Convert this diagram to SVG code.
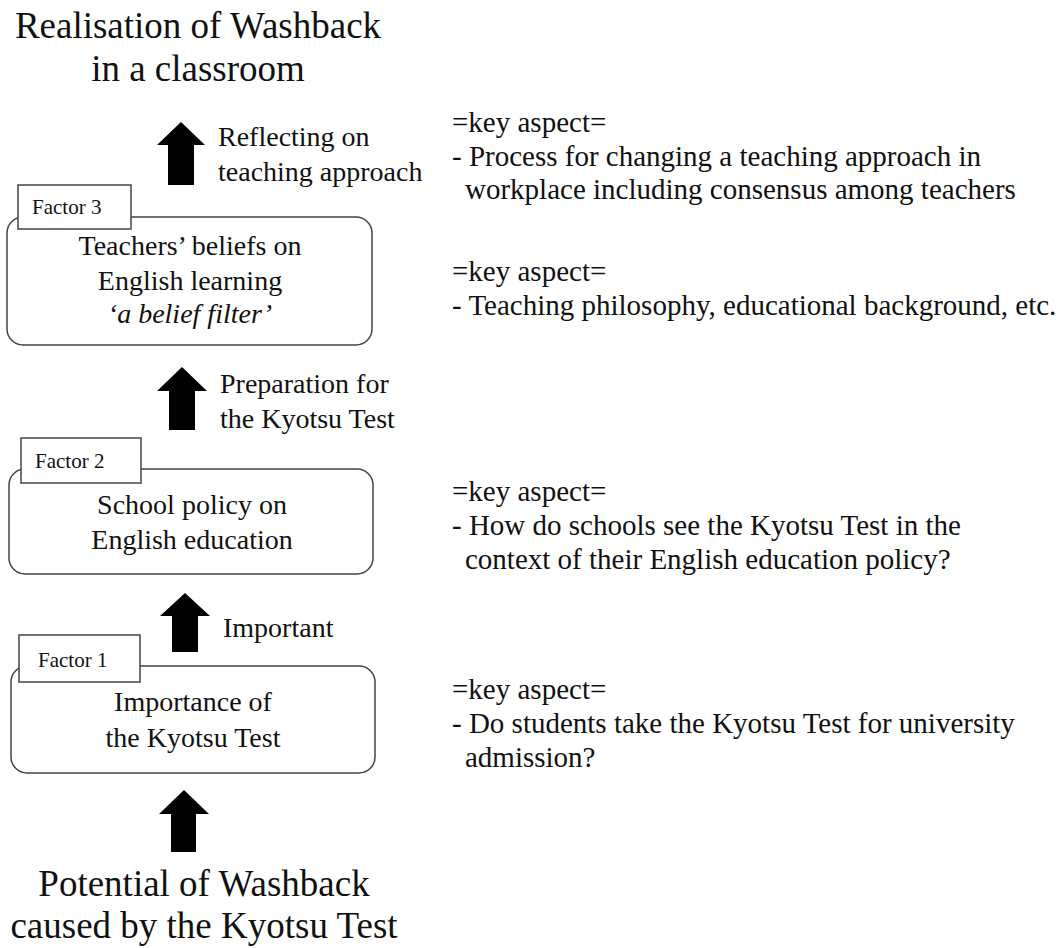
<svg xmlns="http://www.w3.org/2000/svg" width="1062" height="948" viewBox="0 0 1062 948">
<style>
text{font-family:"Liberation Serif","Times New Roman",serif;fill:#111;}
.title{font-size:37px;text-anchor:middle;}
.lbl{font-size:28px;}
.box{fill:#fff;stroke:#444;stroke-width:1.5;}
.btxt{font-size:28px;text-anchor:middle;}
.ftag{fill:#fff;stroke:#444;stroke-width:1.5;}
.ftxt{font-size:21px;}
.key{font-size:29px;}
.arrow{fill:#000;}
</style>
<rect width="1062" height="948" fill="#fff"/>
<g id="title-top">
<text class="title" x="198" y="38">Realisation of Washback</text>
<text class="title" x="198" y="81">in a classroom</text>
</g>
<g id="title-bottom">
<text class="title" x="204" y="896">Potential of Washback</text>
<text class="title" x="204" y="938">caused by the Kyotsu Test</text>
</g>
<g id="connectors">
<path class="arrow" d="M181,122 L205,145 L194,145 L194,185 L168,185 L168,145 L157,145 Z"/>
<path class="arrow" d="M182,367 L207,391 L195,391 L195,430 L169,430 L169,391 L157,391 Z"/>
<path class="arrow" d="M185,593 L210,616 L198,616 L198,652 L172,652 L172,616 L160,616 Z"/>
<path class="arrow" d="M184,790 L209,814 L196,814 L196,852 L171,852 L171,814 L159,814 Z"/>
<text class="lbl" x="218" y="146">Reflecting on</text>
<text class="lbl" x="218" y="181">teaching approach</text>
<text class="lbl" x="220" y="393">Preparation for</text>
<text class="lbl" x="220" y="428">the Kyotsu Test</text>
<text class="lbl" x="223" y="637">Important</text>
</g>
<g id="factor3">
<rect class="box" x="7" y="217" width="365" height="128" rx="16"/>
<rect class="ftag" x="18" y="185" width="113" height="44"/>
<text class="ftxt" x="32" y="214">Factor 3</text>
<text class="btxt" x="190" y="255">Teachers’ beliefs on</text>
<text class="btxt" x="190" y="290">English learning</text>
<text class="btxt" x="190" y="323" font-style="italic">‘a belief filter’</text>
</g>
<g id="factor2">
<rect class="box" x="9" y="469" width="364" height="105" rx="16"/>
<rect class="ftag" x="21" y="438" width="120" height="45"/>
<text class="ftxt" x="35" y="468">Factor 2</text>
<text class="btxt" x="192" y="514">School policy on</text>
<text class="btxt" x="192" y="549">English education</text>
</g>
<g id="factor1">
<rect class="box" x="11" y="666" width="364" height="107" rx="16"/>
<rect class="ftag" x="19" y="635" width="121" height="47"/>
<text class="ftxt" x="38" y="667">Factor 1</text>
<text class="btxt" x="193" y="711">Importance of</text>
<text class="btxt" x="193" y="747">the Kyotsu Test</text>
</g>
<g id="aspect3">
<text class="key" x="452" y="132">=key aspect=</text>
<text class="key" x="452" y="166">- Process for changing a teaching approach in</text>
<text class="key" x="465" y="199">workplace including consensus among teachers</text>
</g>
<g id="aspect-belief">
<text class="key" x="452" y="281">=key aspect=</text>
<text class="key" x="452" y="315">- Teaching philosophy, educational background, etc.</text>
</g>
<g id="aspect2">
<text class="key" x="452" y="501">=key aspect=</text>
<text class="key" x="452" y="535">- How do schools see the Kyotsu Test in the</text>
<text class="key" x="465" y="569">context of their English education policy?</text>
</g>
<g id="aspect1">
<text class="key" x="452" y="699">=key aspect=</text>
<text class="key" x="452" y="733">- Do students take the Kyotsu Test for university</text>
<text class="key" x="465" y="767">admission?</text>
</g>
</svg>
